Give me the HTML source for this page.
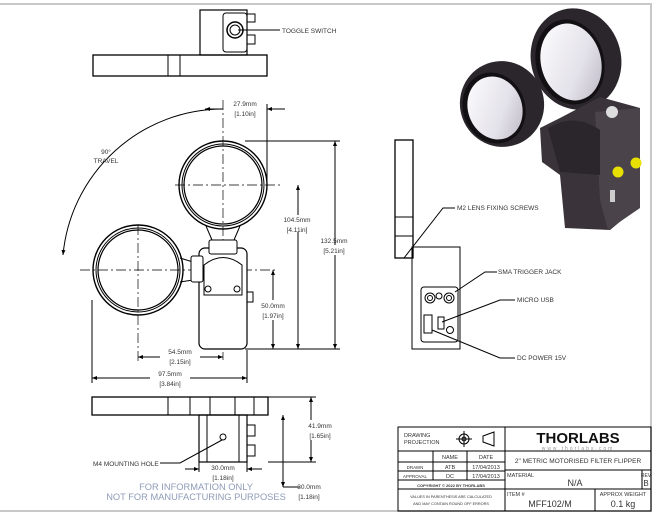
<!DOCTYPE html>
<html><head><meta charset="utf-8"><style>
html,body{margin:0;padding:0;background:#fff}
svg{display:block}
text{font-family:"Liberation Sans",sans-serif;fill:#333}
</style></head><body>
<svg width="657" height="515" viewBox="0 0 657 515" xmlns="http://www.w3.org/2000/svg">
<defs>
<marker id="a" viewBox="0 0 10 10" refX="10" refY="5" markerWidth="7" markerHeight="5" orient="auto-start-reverse"><path d="M0,1 L10,5 L0,9 z" fill="#000"/></marker>
<linearGradient id="g" x1="0" y1="0" x2="1" y2="1"><stop offset="0" stop-color="#fff"/><stop offset="0.6" stop-color="#e4e2ea"/><stop offset="1" stop-color="#b8b4c0"/></linearGradient>
</defs>
<path d="M0,4 H651 V511 H0" fill="none" stroke="#c8c8c8" stroke-width="2"/>

<g stroke="#000" fill="none" stroke-width="1">
<rect x="93" y="55" width="174" height="21" stroke-width="1.3"/>
<line x1="168" y1="55" x2="168" y2="76"/><line x1="180" y1="55" x2="180" y2="76"/>
<rect x="200" y="10" width="47" height="45" stroke-width="1.2"/>
<rect x="223" y="13" width="24" height="39" rx="3"/>
<circle cx="235" cy="30" r="8" stroke-width="1.5"/><circle cx="235" cy="30" r="5"/>
<rect x="247" y="14" width="8" height="8"/><rect x="247" y="35" width="8" height="9"/>
<line x1="238" y1="30" x2="280" y2="30"/>

<g stroke-dasharray="10,3,2,3" stroke-width="0.7">
<line x1="175" y1="185" x2="282" y2="185"/><line x1="223" y1="100" x2="223" y2="360"/>
<line x1="80" y1="270" x2="278" y2="270"/><line x1="138" y1="225" x2="138" y2="362"/>
</g>
<circle cx="223" cy="185" r="44" stroke-width="1.4"/><circle cx="223" cy="185" r="41"/><circle cx="223" cy="185" r="39" stroke-width="1.2"/>
<circle cx="138" cy="270" r="45" stroke-width="1.4"/><circle cx="138" cy="270" r="42"/><circle cx="138" cy="270" r="40" stroke-width="1.2"/>
<path d="M206,226 L212,240 M240,226 L234,240"/>
<path d="M180,258 L193,262 M180,282 L193,280"/>
<rect x="199" y="248" width="48" height="101" rx="6" fill="#fff" stroke-width="1.2"/>
<rect x="209" y="240" width="28" height="14" rx="2" fill="#fff"/>
<rect x="191" y="256" width="12" height="26" rx="2" fill="#fff"/>
<path d="M204,295 V265 Q223,250 242,265 V295 Z" fill="#fff"/>
<circle cx="208" cy="289" r="3"/><circle cx="237" cy="289" r="3"/>
<rect x="247" y="292" width="6" height="10"/>
<line x1="245" y1="349" x2="340" y2="349"/>
<line x1="223" y1="109" x2="205" y2="109" marker-end="url(#a)"/>
<line x1="267" y1="104" x2="267" y2="190"/>
<line x1="285" y1="109" x2="267" y2="109" marker-end="url(#a)"/>
<line x1="245" y1="141" x2="340" y2="141"/>
<line x1="335" y1="245" x2="335" y2="141" marker-end="url(#a)"/><line x1="335" y1="255" x2="335" y2="349" marker-end="url(#a)"/>
<line x1="298" y1="215" x2="298" y2="185" marker-end="url(#a)"/><line x1="298" y1="232" x2="298" y2="349" marker-end="url(#a)"/>
<line x1="273" y1="300" x2="273" y2="270" marker-end="url(#a)"/><line x1="273" y1="320" x2="273" y2="349" marker-end="url(#a)"/>
<line x1="160" y1="357" x2="138" y2="357" marker-end="url(#a)"/><line x1="200" y1="357" x2="223" y2="357" marker-end="url(#a)"/>
<line x1="92" y1="300" x2="92" y2="383"/><line x1="247" y1="350" x2="247" y2="383"/>
<line x1="150" y1="378" x2="92" y2="378" marker-end="url(#a)"/><line x1="190" y1="378" x2="247" y2="378" marker-end="url(#a)"/>
<path d="M223,109 A161,161 0 0 0 63,255" marker-end="url(#a)"/>

<rect x="395" y="140" width="18" height="118" stroke-width="1.3"/>
<line x1="395" y1="217" x2="413" y2="217"/><line x1="395" y1="236" x2="413" y2="236"/>
<rect x="412" y="247" width="48" height="102"/>
<rect x="421" y="287" width="37" height="55" rx="3"/>
<circle cx="430" cy="298" r="5"/><circle cx="430" cy="298" r="2.5"/>
<circle cx="449" cy="298" r="5"/><circle cx="449" cy="298" r="2.5"/>
<circle cx="439" cy="296" r="3"/>
<rect x="424" y="315" width="8" height="18"/><rect x="438" y="317" width="6" height="12"/>
<circle cx="450" cy="330" r="3.5"/>
<path d="M404,258 L443,208 L455,208"/>
<path d="M455,292 L485,272 L497,272"/>
<path d="M442,322 L500,300 L515,300"/>
<path d="M432,330 L500,358 L515,358"/>

<rect x="92" y="397" width="176" height="18" stroke-width="1.3"/>
<line x1="168" y1="397" x2="168" y2="415"/><line x1="190" y1="397" x2="190" y2="415"/>
<line x1="210" y1="397" x2="210" y2="415"/><line x1="235" y1="397" x2="235" y2="415"/><line x1="254" y1="397" x2="254" y2="415"/>
<rect x="199" y="415" width="48" height="47" stroke-width="1.2"/>
<line x1="207" y1="415" x2="207" y2="462"/><line x1="239" y1="415" x2="239" y2="462"/>
<rect x="247" y="425" width="8" height="11"/><rect x="247" y="445" width="8" height="11"/>
<circle cx="223" cy="437" r="3"/>
<path d="M160,463 L180,463 L222,440"/>
<line x1="268" y1="397" x2="316" y2="397"/><line x1="268" y1="462" x2="316" y2="462"/>
<line x1="311" y1="420" x2="311" y2="397" marker-end="url(#a)"/><line x1="311" y1="440" x2="311" y2="462" marker-end="url(#a)"/>
<line x1="199" y1="462" x2="199" y2="472"/><line x1="247" y1="462" x2="247" y2="472"/>
<line x1="185" y1="469" x2="199" y2="469" marker-end="url(#a)"/><line x1="262" y1="469" x2="247" y2="469" marker-end="url(#a)"/>
<line x1="283" y1="415" x2="283" y2="487" marker-end="url(#a)" marker-start="url(#a)"/>
<line x1="283" y1="487" x2="300" y2="487"/>

<rect x="398" y="427" width="253" height="84" stroke-width="1"/>
<line x1="505" y1="427" x2="505" y2="511"/>
<line x1="398" y1="451" x2="651" y2="451"/>
<line x1="398" y1="462" x2="505" y2="462"/>
<line x1="398" y1="471" x2="505" y2="471"/>
<line x1="398" y1="480" x2="505" y2="480"/><line x1="505" y1="470" x2="651" y2="470"/>
<line x1="398" y1="489" x2="651" y2="489"/>
<line x1="433" y1="451" x2="433" y2="480"/><line x1="467" y1="451" x2="467" y2="480"/>
<line x1="642" y1="470" x2="642" y2="489"/><line x1="595" y1="489" x2="595" y2="511"/>
<circle cx="464" cy="439" r="5"/><circle cx="464" cy="439" r="2"/>
<line x1="456" y1="439" x2="472" y2="439"/><line x1="464" y1="431" x2="464" y2="447"/>
<path d="M483,436 L494,432 V446 L483,442 Z"/>
</g>

<!-- 3D render -->
<g>
<!-- small ring band -->
<ellipse cx="502" cy="104" rx="42" ry="43" transform="rotate(-20 502 104)" fill="#2a262b"/>
<ellipse cx="494" cy="108" rx="31" ry="36" transform="rotate(-20 494 108)" fill="#121012"/>
<ellipse cx="495" cy="108" rx="27" ry="32" transform="rotate(-20 495 108)" fill="url(#g)"/>
<!-- big ring band -->
<ellipse cx="576" cy="59" rx="45" ry="51" transform="rotate(-15 576 59)" fill="#2a262b"/>
<ellipse cx="570" cy="62" rx="34" ry="43" transform="rotate(-15 570 62)" fill="#121012"/>
<ellipse cx="571" cy="62" rx="30" ry="39" transform="rotate(-15 571 62)" fill="url(#g)"/>
<!-- body -->
<polygon points="540,128 560,118 600,97 640,108 640,205 610,230 565,228 560,175 542,162" fill="#3a343a"/>
<polygon points="595,112 640,108 640,208 608,230 600,200" fill="#4a444a"/>
<path d="M548,128 Q575,112 600,130 V175 L560,172 Z" fill="#2a262b"/>
<circle cx="612" cy="112" r="6" fill="#ddd"/>
<circle cx="618" cy="172" r="5.5" fill="#e8e000"/><circle cx="636" cy="163" r="5.5" fill="#e8e000"/>
<rect x="610" y="190" width="5" height="12" fill="#ccc"/>
</g>

<g font-size="6.5">
<text x="282" y="33">TOGGLE SWITCH</text>
<text x="245" y="106" text-anchor="middle">27.9mm</text><text x="245" y="116" text-anchor="middle">[1.10in]</text>
<text x="106" y="154" text-anchor="middle">90°</text><text x="106" y="163" text-anchor="middle">TRAVEL</text>
<text x="297" y="222" text-anchor="middle">104.5mm</text><text x="297" y="232" text-anchor="middle">[4.11in]</text>
<text x="334" y="243" text-anchor="middle">132.5mm</text><text x="334" y="253" text-anchor="middle">[5.21in]</text>
<text x="273" y="308" text-anchor="middle">50.0mm</text><text x="273" y="318" text-anchor="middle">[1.97in]</text>
<text x="180" y="354" text-anchor="middle">54.5mm</text><text x="180" y="364" text-anchor="middle">[2.15in]</text>
<text x="170" y="376" text-anchor="middle">97.5mm</text><text x="170" y="386" text-anchor="middle">[3.84in]</text>
<text x="457" y="210">M2 LENS FIXING SCREWS</text>
<text x="498" y="274">SMA TRIGGER JACK</text>
<text x="517" y="302">MICRO USB</text>
<text x="517" y="360">DC POWER 15V</text>
<text x="320" y="428" text-anchor="middle">41.9mm</text><text x="320" y="438" text-anchor="middle">[1.65in]</text>
<text x="93" y="466">M4 MOUNTING HOLE</text>
<text x="223" y="470" text-anchor="middle">30.0mm</text><text x="223" y="480" text-anchor="middle">[1.18in]</text>
<text x="309" y="489" text-anchor="middle">30.0mm</text><text x="309" y="499" text-anchor="middle">[1.18in]</text>
</g>
<g font-size="9.3" text-anchor="middle">
<text x="196" y="490" style="fill:#8f9cb8">FOR INFORMATION ONLY</text>
<text x="196" y="500" style="fill:#8f9cb8">NOT FOR MANUFACTURING PURPOSES</text>
</g>
<g font-size="5.5">
<text x="404" y="437">DRAWING</text><text x="404" y="444">PROJECTION</text>
<text x="450" y="459" text-anchor="middle">NAME</text><text x="486" y="459" text-anchor="middle">DATE</text>
<text x="415" y="469" text-anchor="middle" font-size="4.5">DRAWN</text><text x="450" y="469" text-anchor="middle">ATB</text><text x="486" y="469" text-anchor="middle">17/04/2013</text>
<text x="415" y="478" text-anchor="middle" font-size="4.5">APPROVAL</text><text x="450" y="478" text-anchor="middle">DC</text><text x="486" y="478" text-anchor="middle">17/04/2013</text>
<text x="451" y="487" text-anchor="middle" font-size="4" font-weight="bold">COPYRIGHT © 2022 BY THORLABS</text>
<text x="451" y="498" text-anchor="middle" font-size="3.8">VALUES IN PARENTHESIS ARE CALCULATED</text>
<text x="451" y="505" text-anchor="middle" font-size="3.8">AND MAY CONTAIN ROUND OFF ERRORS</text>
<text x="578" y="443" text-anchor="middle" font-size="15" font-weight="bold" style="fill:#111">THORLABS</text>
<text x="578" y="450" text-anchor="middle" font-size="5" style="fill:#999" letter-spacing="2">www.thorlabs.com</text>
<text x="578" y="463" text-anchor="middle" font-size="6.5">2" METRIC MOTORISED FILTER FLIPPER</text>
<text x="507" y="477">MATERIAL</text>
<text x="575" y="486" text-anchor="middle" font-size="9">N/A</text>
<text x="646" y="477" text-anchor="middle" font-size="5">REV</text><text x="646" y="486" text-anchor="middle" font-size="8">B</text>
<text x="507" y="496">ITEM #</text>
<text x="550" y="507" text-anchor="middle" font-size="9">MFF102/M</text>
<text x="623" y="496" text-anchor="middle">APPROX WEIGHT</text>
<text x="623" y="507" text-anchor="middle" font-size="9">0.1 kg</text>
</g>
</svg>
</body></html>
